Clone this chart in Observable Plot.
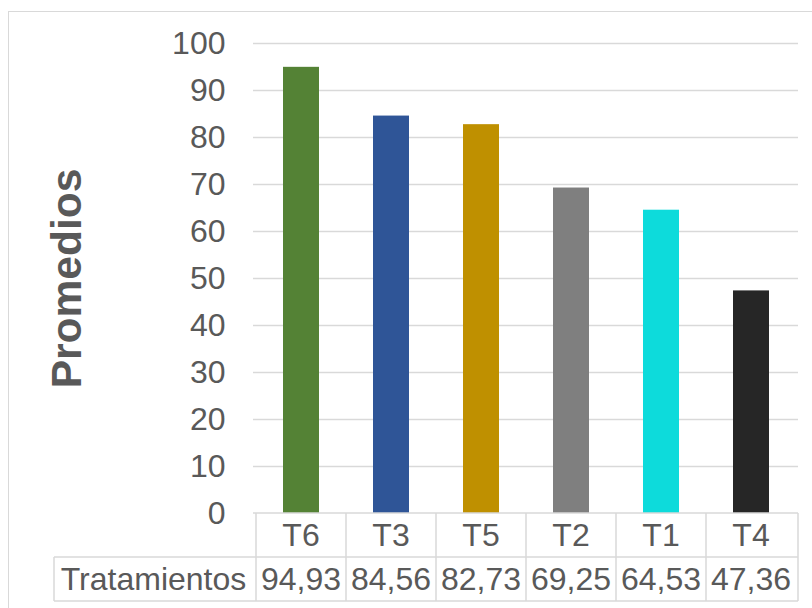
<!DOCTYPE html>
<html><head><meta charset="utf-8">
<script src="https://cdn.jsdelivr.net/npm/d3@7"></script>
<script src="https://cdn.jsdelivr.net/npm/@observablehq/plot@0.6"></script>
<style>
html,body{margin:0;padding:0;background:#fff;}
#wrap{position:relative;width:812px;height:608px;overflow:hidden;background:#fff;}
#frame{position:absolute;left:8px;top:11px;width:900px;height:700px;border:1px solid #d9d9d9;box-sizing:border-box;}
#chart{position:absolute;left:0;top:0;}
</style></head>
<body><div id="wrap"><div id="frame"></div><div id="chart"></div></div>
<script>
const categories = ["T6", "T3", "T5", "T2", "T1", "T4"];
const values = [94.93, 84.56, 82.73, 69.25, 64.53, 47.36];
const colors = ["#548235", "#2f5597", "#bf9000", "#7f7f7f", "#0ddbdb", "#262626"];
const yTicks = [0, 10, 20, 30, 40, 50, 60, 70, 80, 90, 100];
const rowLabel = "Tratamientos";
const axisTitle = "Promedios";

const data = categories.map((c, i) => ({name: c, value: values[i], color: colors[i]}));
const fmt = v => v.toFixed(2).replace(".", ",");
const textColor = "#595959";
const lineColor = "#d9d9d9";
const font = "'Liberation Sans', Arial, sans-serif";
const fs = 32;

const plot = Plot.plot({
  width: 812,
  height: 608,
  marginLeft: 253,
  marginRight: 14,
  marginTop: 43,
  marginBottom: 95,
  style: {fontFamily: font, fontSize: fs + "px", color: textColor, background: "transparent", overflow: "visible"},
  x: {domain: categories, padding: 0, axis: null},
  y: {domain: [0, 100], axis: null},
  color: {type: "identity"},
  marks: [
    Plot.ruleY(yTicks.filter(t => t > 0), {stroke: lineColor, strokeWidth: 1.5}),
    Plot.axisY(yTicks, {tickSize: 0, tickPadding: 28, fontSize: fs, fill: textColor, label: null}),
    Plot.barY(data, {x: "name", y: "value", fill: "color", insetLeft: 27, insetRight: 27}),
    Plot.text([axisTitle], {frameAnchor: "left", textAnchor: "middle", dx: -186, rotate: -90, fontSize: 42.5, fontWeight: "bold", fill: textColor})
  ]
});
document.getElementById("chart").appendChild(plot);

// data table under the plot, positioned from the plot's scales
const xs = plot.scale("x");
const ys = plot.scale("y");
const svg = d3.select(plot);
const y0 = ys.apply(0);
const rowH = 44;
const left = xs.range[0], right = xs.range[1];
const labelLeft = 54;
const g = svg.append("g").attr("stroke", lineColor).attr("stroke-width", 1.5);
g.append("line").attr("x1", left).attr("x2", right).attr("y1", y0).attr("y2", y0);
g.append("line").attr("x1", labelLeft).attr("x2", right).attr("y1", y0 + rowH).attr("y2", y0 + rowH);
g.append("line").attr("x1", labelLeft).attr("x2", right).attr("y1", y0 + 2 * rowH).attr("y2", y0 + 2 * rowH);
g.append("line").attr("x1", labelLeft).attr("x2", labelLeft).attr("y1", y0 + rowH).attr("y2", y0 + 2 * rowH);
categories.forEach((c) => {
  const xe = xs.apply(c);
  g.append("line").attr("x1", xe).attr("x2", xe).attr("y1", y0).attr("y2", y0 + 2 * rowH);
});
g.append("line").attr("x1", right).attr("x2", right).attr("y1", y0).attr("y2", y0 + 2 * rowH);

const t = svg.append("g").attr("fill", textColor).attr("font-size", fs).attr("font-family", font).attr("text-anchor", "middle");
categories.forEach((c, i) => {
  const cx = xs.apply(c) + xs.bandwidth / 2;
  t.append("text").attr("x", cx).attr("y", y0 + rowH / 2).attr("dy", "0.35em").text(c);
  t.append("text").attr("x", cx).attr("y", y0 + rowH * 1.5).attr("dy", "0.35em").text(fmt(values[i]));
});
t.append("text").attr("x", (labelLeft + left) / 2).attr("y", y0 + rowH * 1.5).attr("dy", "0.35em").text(rowLabel);
</script>
</body></html>
